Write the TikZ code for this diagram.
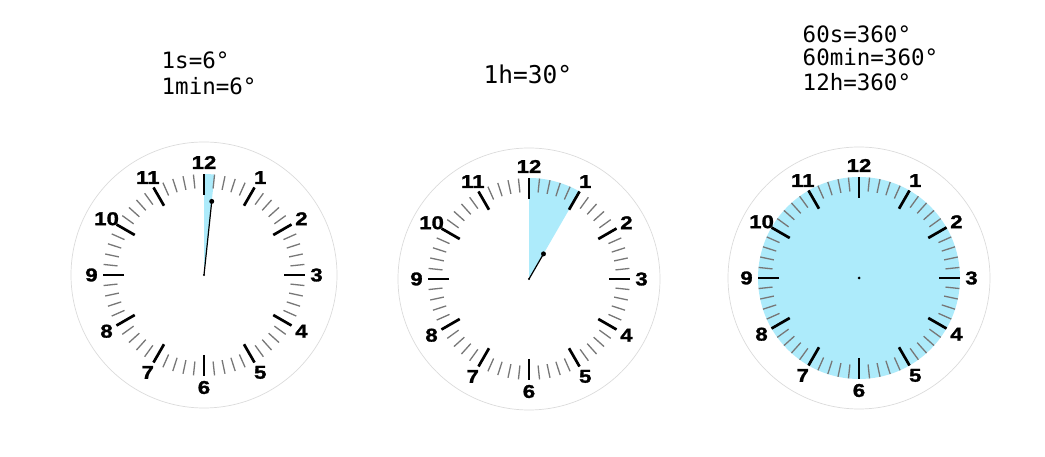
\documentclass[tikz,border=0pt]{standalone}
\usepackage{fontspec}
\newfontfamily\numfont{Liberation Sans}[FakeStretch=1.2, FakeBold=1.5]
\newfontfamily\monofont{DejaVu Sans Mono}
\definecolor{dialblue}{HTML}{ADEBFB}
\definecolor{tickgray}{HTML}{777777}
\tikzset{
	rim/.style = {black!14, line width = 0.7pt},
	minortick/.style = {tickgray, line width = 1.3pt},
	hourtick/.style = {black, line width = 2.7pt},
	numeral/.style = {font = \numfont\bfseries\fontsize{18.5}{20}\selectfont, inner sep = 0pt},
	hand/.style = {black, line width = 1.2pt},
	note/.style = {font = \monofont\fontsize{22.5}{26}\selectfont, anchor = base west, inner sep = 0pt}
}
% dial: 60 small ticks, 12 hour ticks and the numbers
\newcommand\clockdial[1]{
	\foreach \m in {0,...,59}
	{
		\draw[minortick] ({90-6*\m}:87) -- ({90-6*\m}:101);
	}
	\foreach \h in {1,...,12}
	{
		\draw[hourtick] ({90-30*\h}:80) -- ({90-30*\h}:101);
		\node[numeral] (#1-\h) at ({90-30*\h}:112.5) {\h};
	}
}
\begin{document}
\begin{tikzpicture}[x = 1pt, y = 1pt]
\useasboundingbox (0,0) rectangle (1045,457);

% seconds / minutes
\node[note] (t1a) at (161.5,388) {1s=6°};
\node[note] (t1b) at (161.5,362) {1min=6°};
\begin{scope}[shift = {(204,182)}]
	\draw[rim] (0,0) circle (133);
	\fill[dialblue] (0,0) -- (90:101) arc (90:84:101) -- cycle;
	\clockdial{a}
	\coordinate (ca) at (0,0);
	\coordinate (ha) at (84:74);
	\draw[hand] (ca) -- (ha);
	\fill (ha) circle (2.5);
	\fill (ca) circle (1.2);
\end{scope}

% hours
\node[note, font = \monofont\fontsize{24.5}{28}\selectfont] (t2) at (483.5,373) {1h=30°};
\begin{scope}[shift = {(529,178)}]
	\draw[rim] (0,0) circle (131);
	\fill[dialblue] (0,0) -- (90:101) arc (90:60:101) -- cycle;
	\clockdial{b}
	\coordinate (cb) at (0,0);
	\coordinate (hb) at (60:29);
	\draw[hand] (cb) -- (hb);
	\fill (hb) circle (2.5);
	\fill (cb) circle (1.2);
\end{scope}

% full turn
\node[note] (t3a) at (802.5,414.3) {60s=360°};
\node[note] (t3b) at (802.5,391) {60min=360°};
\node[note] (t3c) at (802.5,366) {12h=360°};
\begin{scope}[shift = {(859,179)}]
	\draw[rim] (0,0) circle (131);
	\fill[dialblue] (0,0) circle (101);
	\clockdial{c}
	\coordinate (cc) at (0,0);
	\fill (cc) circle (1.5);
\end{scope}
\end{tikzpicture}
\end{document}
